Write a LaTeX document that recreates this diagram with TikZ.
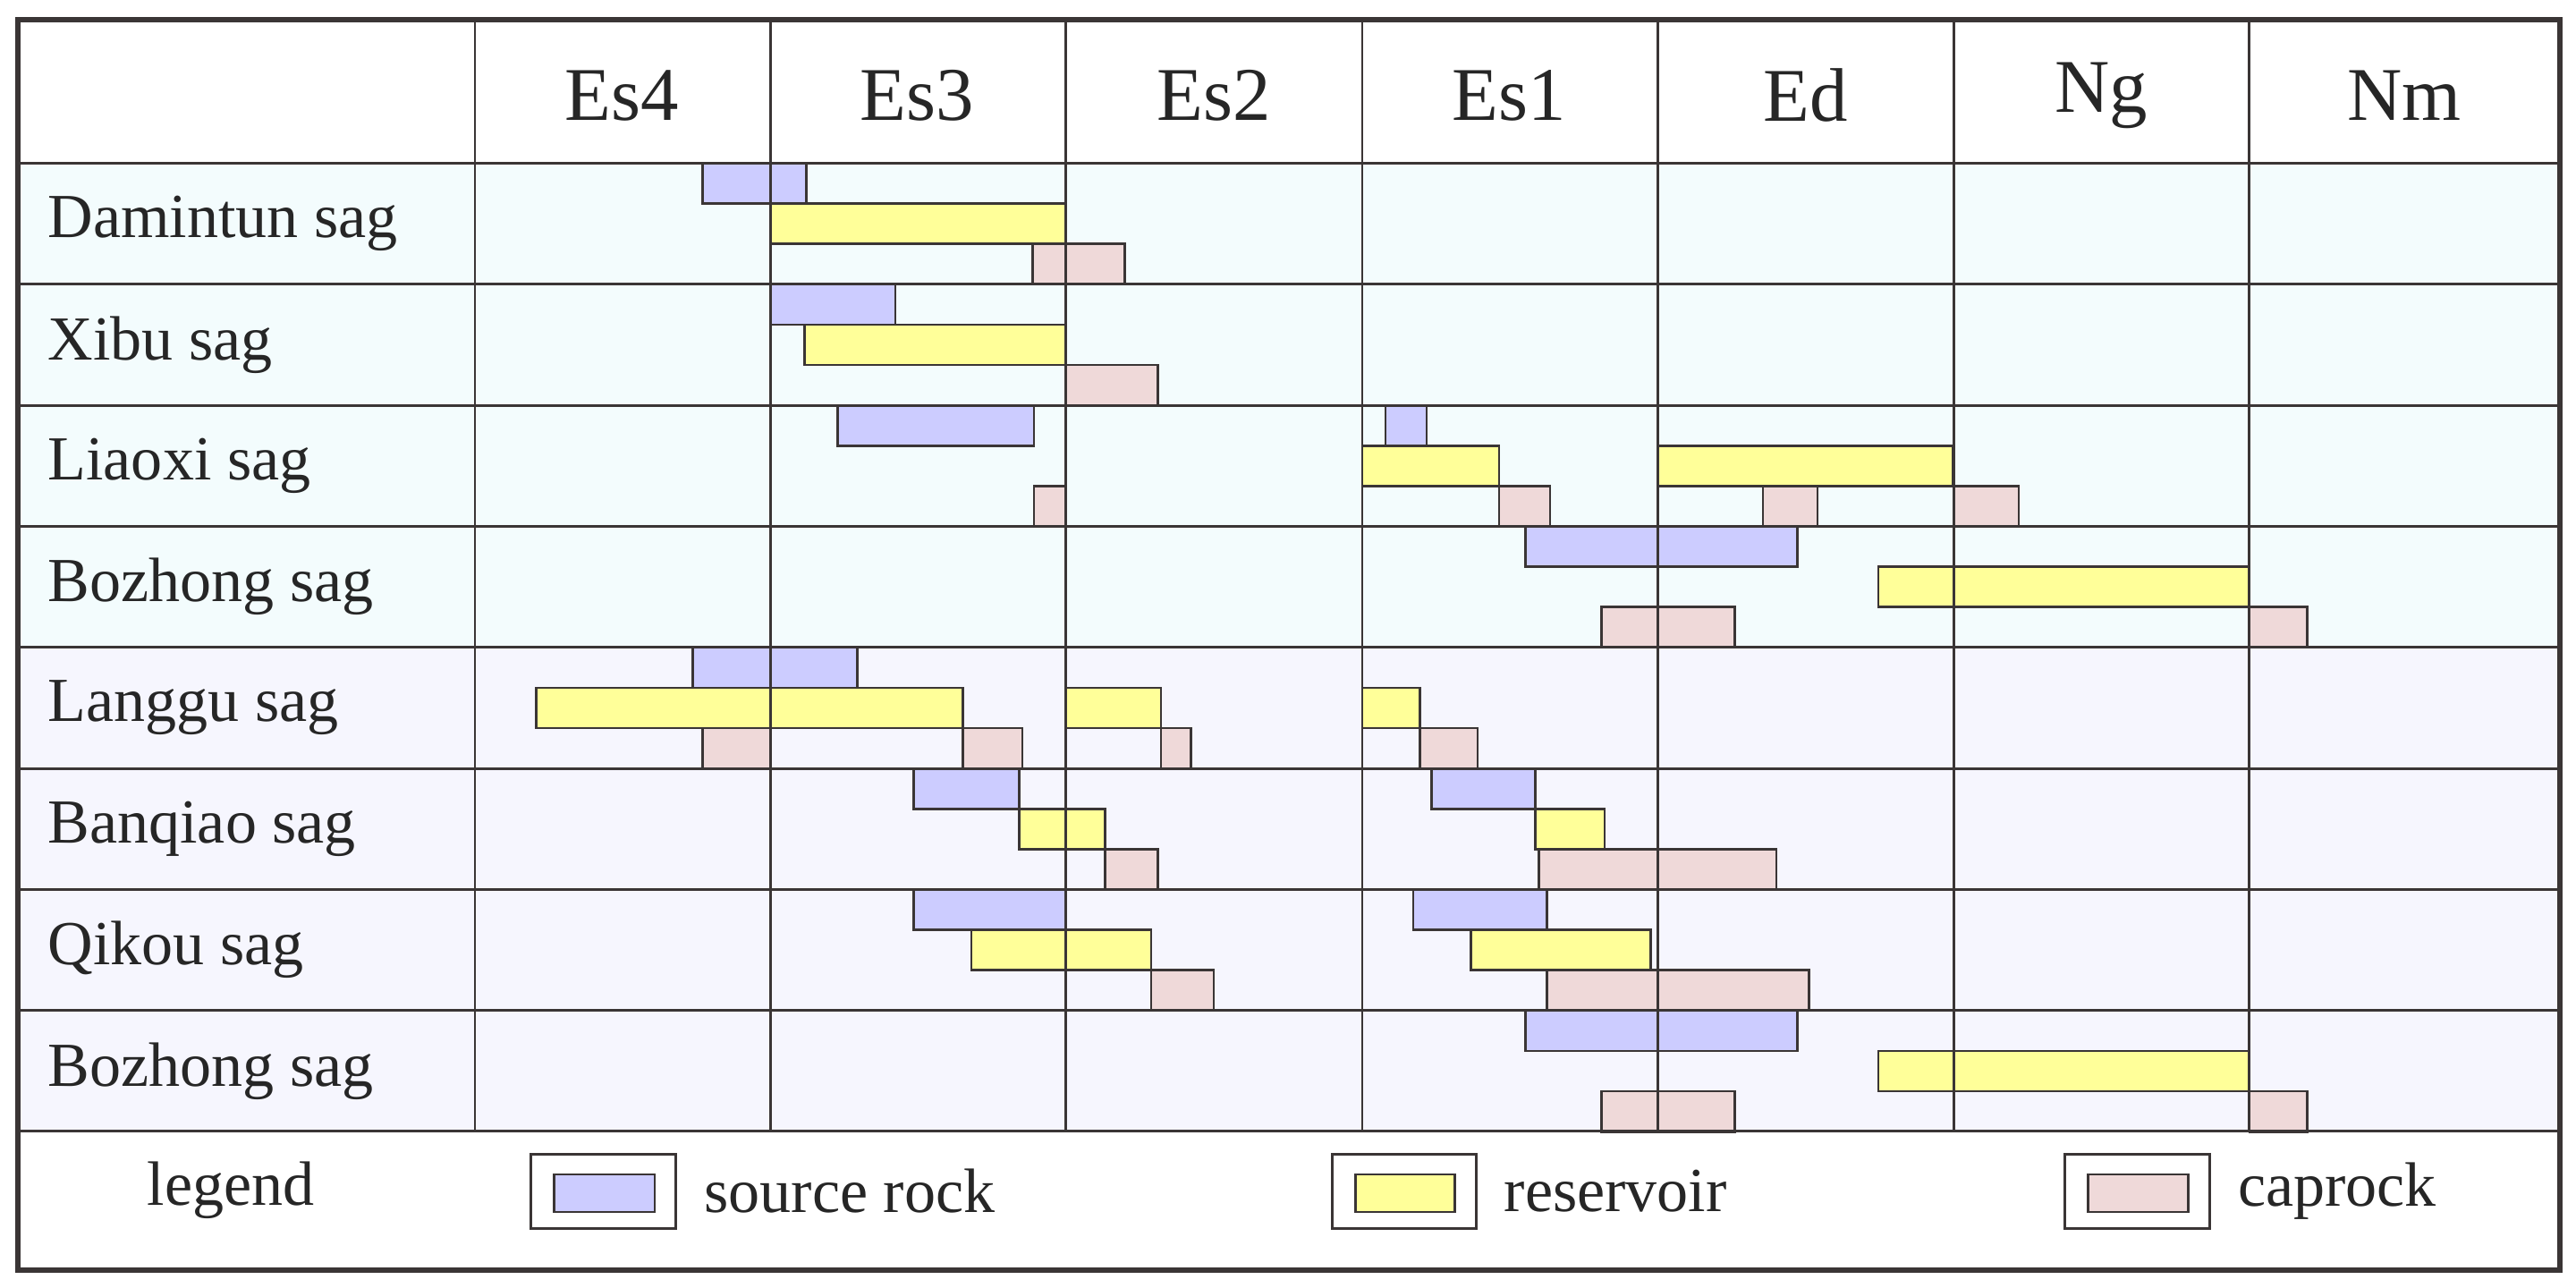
\documentclass[tikz,border=0pt]{standalone}
\usepackage{fontspec}
\setmainfont{Liberation Serif}
\definecolor{gridc}{HTML}{3A3535}
\definecolor{cyanbg}{HTML}{F3FCFD}
\definecolor{lavbg}{HTML}{F6F6FE}
\definecolor{srcc}{HTML}{CCCCFF}
\definecolor{resc}{HTML}{FFFF99}
\definecolor{capc}{HTML}{EFD9D9}
\tikzset{
  gridline/.style={draw=gridc,line width=0.8pt},
  srcbar/.style={fill=srcc,draw=gridc,line width=0.7pt},
  resbar/.style={fill=resc,draw=gridc,line width=0.7pt},
  capbar/.style={fill=capc,draw=gridc,line width=0.7pt},
  hdr/.style={font=\fontsize{23}{26}\selectfont,text=black!85},
  lbl/.style={font=\fontsize{19}{22}\selectfont,text=black!85,anchor=west},
}
\newcommand{\gbar}[5]{%
  \pgfmathsetmacro{\ytop}{99+(#2-1)*73.4+#3*24.47}%
  \pgfmathsetmacro{\ybot}{\ytop+24.47}%
  \path[#1] (#4,\ytop) rectangle (#5,\ybot);}
\begin{document}
\begin{tikzpicture}[x=0.5pt,y=-0.5pt]
\useasboundingbox (0,0) rectangle (1562,781);
\fill[white] (0,0) rectangle (1562,781);
\fill[cyanbg] (11,99) rectangle (1552,393);
\fill[lavbg] (11,393) rectangle (1552,686);
\gbar{srcbar}{1}{0}{426}{489}
\gbar{resbar}{1}{1}{467}{646}
\gbar{capbar}{1}{2}{626}{682}
\gbar{srcbar}{2}{0}{467}{543}
\gbar{resbar}{2}{1}{488}{646}
\gbar{capbar}{2}{2}{646}{702}
\gbar{srcbar}{3}{0}{508}{627}
\gbar{srcbar}{3}{0}{840}{865}
\gbar{resbar}{3}{1}{826}{909}
\gbar{resbar}{3}{1}{1005}{1184}
\gbar{capbar}{3}{2}{627}{646}
\gbar{capbar}{3}{2}{909}{940}
\gbar{capbar}{3}{2}{1069}{1102}
\gbar{capbar}{3}{2}{1185}{1224}
\gbar{srcbar}{4}{0}{925}{1090}
\gbar{resbar}{4}{1}{1139}{1364}
\gbar{capbar}{4}{2}{971}{1052}
\gbar{capbar}{4}{2}{1364}{1399}
\gbar{srcbar}{5}{0}{420}{520}
\gbar{resbar}{5}{1}{325}{584}
\gbar{resbar}{5}{1}{646}{704}
\gbar{resbar}{5}{1}{826}{861}
\gbar{capbar}{5}{2}{426}{467}
\gbar{capbar}{5}{2}{584}{620}
\gbar{capbar}{5}{2}{704}{722}
\gbar{capbar}{5}{2}{861}{896}
\gbar{srcbar}{6}{0}{554}{618}
\gbar{srcbar}{6}{0}{868}{931}
\gbar{resbar}{6}{1}{618}{670}
\gbar{resbar}{6}{1}{931}{973}
\gbar{capbar}{6}{2}{670}{702}
\gbar{capbar}{6}{2}{933}{1077}
\gbar{srcbar}{7}{0}{554}{646}
\gbar{srcbar}{7}{0}{857}{938}
\gbar{resbar}{7}{1}{589}{698}
\gbar{resbar}{7}{1}{892}{1001}
\gbar{capbar}{7}{2}{698}{736}
\gbar{capbar}{7}{2}{938}{1097}
\gbar{srcbar}{8}{0}{925}{1090}
\gbar{resbar}{8}{1}{1139}{1364}
\gbar{capbar}{8}{2}{971}{1052}
\gbar{capbar}{8}{2}{1364}{1399}
\foreach \y in {99,172.4,245.8,319.2,392.6,466,539.4,612.8,686}
  \draw[gridline] (11,\y) -- (1552,\y);
\foreach \x in {288,467,646,826,1005,1185,1364}
  \draw[gridline] (\x,12) -- (\x,686);
\draw[draw=gridc,line width=1.6pt] (11,12) rectangle (1552,770);
\foreach \n/\x/\t in {h1/377/Es4,h2/556/Es3,h3/736/Es2,h4/915/Es1,h5/1095/Ed,h6/1274/Ng,h7/1458/Nm}
  \node[hdr] (\n) at (\x,58) {\t};
\foreach \n/\i/\t in {r1/1/Damintun sag,r2/2/Xibu sag,r3/3/Liaoxi sag,r4/4/Bozhong sag,r5/5/Langgu sag,r6/6/Banqiao sag,r7/7/Qikou sag,r8/8/Bozhong sag}
  \node[lbl] (\n) at (22,{99+(\i-0.5)*73.4}) {\t};
\node[hdr,font=\fontsize{19}{22}\selectfont] (lg) at (140,722) {legend};
\draw[gridc,line width=0.8pt] (322,700) rectangle (410,745);
\path[srcbar] (336,712) rectangle (397,735);
\node[lbl] (ls) at (420,722) {source rock};
\draw[gridc,line width=0.8pt] (808,700) rectangle (895,745);
\path[resbar] (822,712) rectangle (882,735);
\node[lbl] (lr) at (905,722) {reservoir};
\draw[gridc,line width=0.8pt] (1252,700) rectangle (1340,745);
\path[capbar] (1266,712) rectangle (1327,735);
\node[lbl] (lc) at (1350,722) {caprock};
\end{tikzpicture}
\end{document}
